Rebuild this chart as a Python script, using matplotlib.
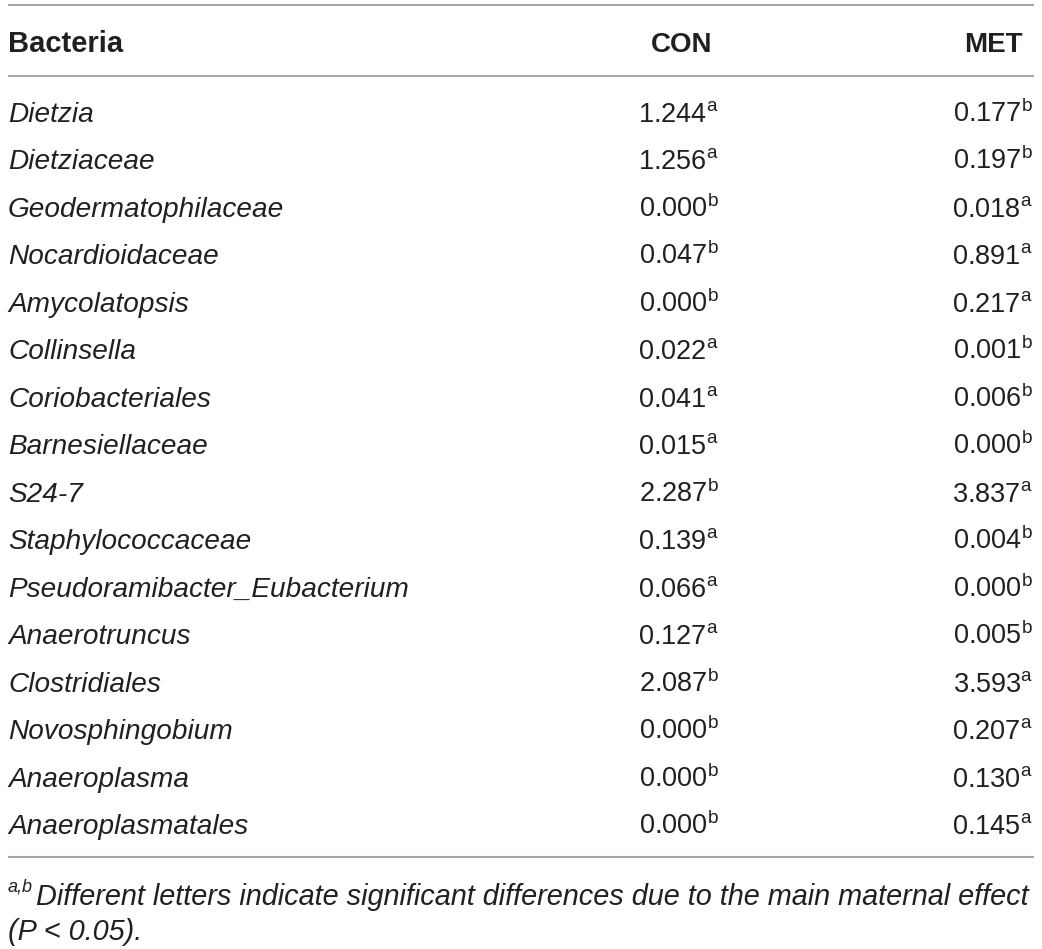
import matplotlib
matplotlib.use("Agg")
import matplotlib.pyplot as plt

plt.rcParams['font.family'] = ['Liberation Sans', 'DejaVu Sans']
plt.rcParams['mathtext.fontset'] = 'custom'
plt.rcParams['mathtext.rm'] = 'Liberation Sans'
plt.rcParams['mathtext.it'] = 'Liberation Sans:italic'

headers = ['Bacteria', 'CON', 'MET']
bacteria = ['Dietzia', 'Dietziaceae', 'Geodermatophilaceae', 'Nocardioidaceae',
            'Amycolatopsis', 'Collinsella', 'Coriobacteriales', 'Barnesiellaceae',
            'S24-7', 'Staphylococcaceae', 'Pseudoramibacter_Eubacterium',
            'Anaerotruncus', 'Clostridiales', 'Novosphingobium', 'Anaeroplasma',
            'Anaeroplasmatales']
con = ['1.244', '1.256', '0.000', '0.047', '0.000', '0.022', '0.041', '0.015',
       '2.287', '0.139', '0.066', '0.127', '2.087', '0.000', '0.000', '0.000']
con_sig = ['a', 'a', 'b', 'b', 'b', 'a', 'a', 'a', 'b', 'a', 'a', 'a', 'b', 'b', 'b', 'b']
met = ['0.177', '0.197', '0.018', '0.891', '0.217', '0.001', '0.006', '0.000',
       '3.837', '0.004', '0.000', '0.005', '3.593', '0.207', '0.130', '0.145']
met_sig = ['b', 'b', 'a', 'a', 'a', 'b', 'b', 'b', 'a', 'b', 'b', 'b', 'a', 'a', 'a', 'a']
note_sup = 'a,b'
note_line1 = 'Different letters indicate significant differences due to the main maternal effect'
note_line2 = '(P < 0.05).'

W, H = 1042, 949
fig = plt.figure(figsize=(W / 100, H / 100), dpi=100)
ax = fig.add_axes([0, 0, 1, 1])
ax.set_xlim(0, W)
ax.set_ylim(H, 0)
ax.axis('off')

txt = '#231f20'
rule = '#a6a6a6'
fs = 19.5
fs_name = 20.2
x_left, x_right = 8, 1034
x_con, x_met = 719, 1033

for y in (5, 76, 857):
    ax.plot([x_left, x_right], [y, y], color=rule, lw=1.5, solid_capstyle='butt')

ax.text(x_left, 52, headers[0], fontsize=21, fontweight='bold', color=txt, va='baseline', ha='left')
ax.text(712, 52, headers[1], fontsize=20, fontweight='bold', color=txt, va='baseline', ha='right')
ax.text(1023, 52, headers[2], fontsize=20, fontweight='bold', color=txt, va='baseline', ha='right')

row0, step = 122, 47.47
for i, name in enumerate(bacteria):
    y = row0 + i * step
    ax.text(x_left, y, name, fontsize=fs_name, style='italic', color=txt, va='baseline', ha='left')
    ax.text(x_con, y, con[i] + r'$^{\mathrm{' + con_sig[i] + '}}$', fontsize=fs,
            color=txt, va='baseline', ha='right')
    ax.text(x_met, y, met[i] + r'$^{\mathrm{' + met_sig[i] + '}}$', fontsize=fs,
            color=txt, va='baseline', ha='right')

# footnote, first line stretched to the full table width
fig.canvas.draw()
r = fig.canvas.get_renderer()
inv = ax.transData.inverted()

def width_of(t):
    bb = t.get_window_extent(renderer=r)
    (x0, _), (x1, _) = inv.transform([(bb.x0, bb.y0), (bb.x1, bb.y1)])
    return x1 - x0

sup = ax.text(x_left, 892, note_sup, fontsize=13, style='italic', color=txt,
              va='baseline', ha='left')
sw = width_of(sup) + 3
main = ax.text(x_left + sw, 905, note_line1, fontsize=fs, style='italic', color=txt,
               va='baseline', ha='left')
mw = width_of(main)
main.set_fontsize(fs * (x_right - x_left - sw) / mw)
ax.text(x_left, 940, note_line2, fontsize=main.get_fontsize(), style='italic', color=txt,
        va='baseline', ha='left')

fig.savefig('out.png', dpi=100)
